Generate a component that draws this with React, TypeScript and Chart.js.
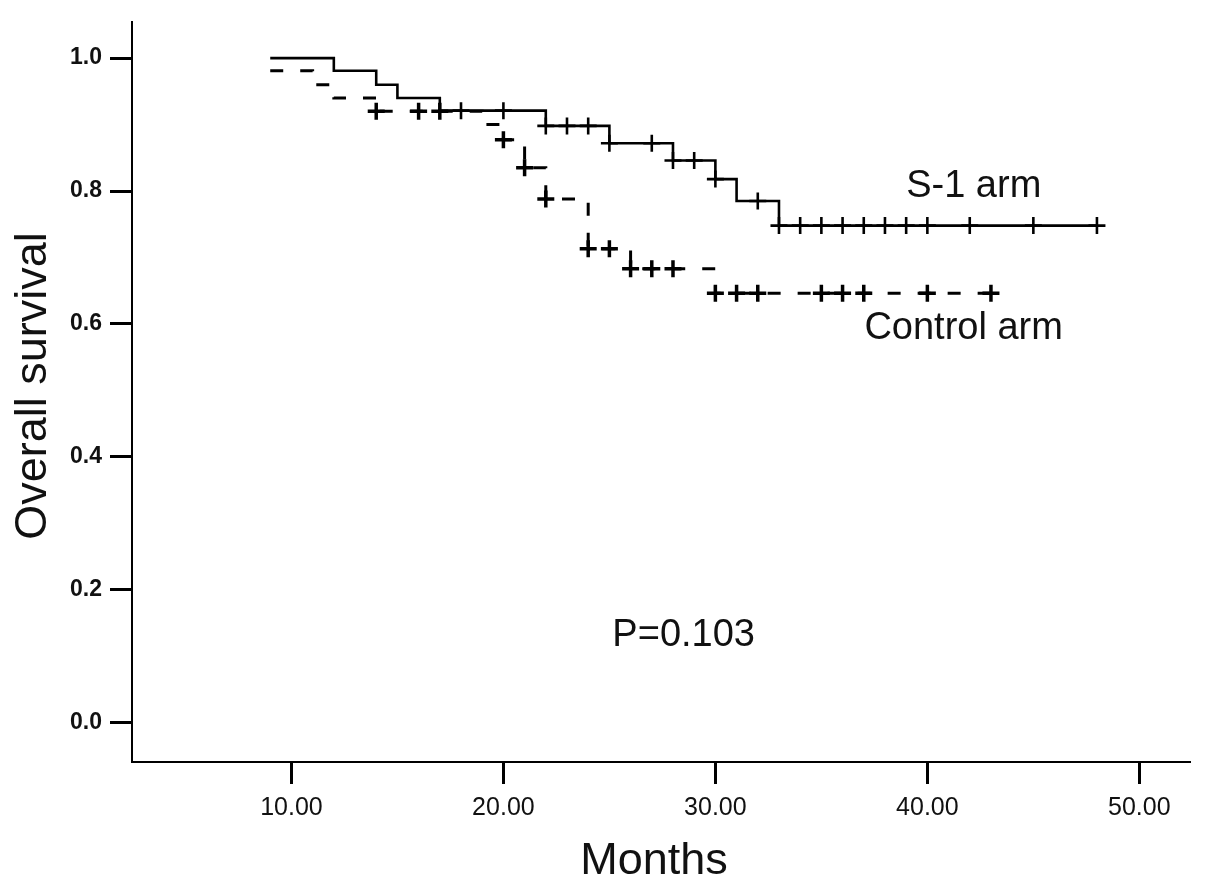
import React, { useEffect, useRef } from "react";
import { Chart, registerables } from "chart.js";

Chart.register(...registerables);

// ---- Data ----
const s1EventMonths = [9, 12, 14, 15, 17, 22, 25, 28, 30, 31, 33, 48];
const s1Survival = [1.0, 0.981, 0.96, 0.94, 0.921, 0.898, 0.872, 0.846, 0.818, 0.785, 0.748, 0.748];
const s1CensorMonths = [18, 20, 22, 23, 24, 25, 27, 28, 29, 30, 32, 33, 34, 35, 36, 37, 38, 39, 40, 42, 45, 48];

const ctlEventMonths = [9, 11, 12, 14, 19, 20, 21, 22, 24, 26, 30, 43];
const ctlSurvival = [0.981, 0.96, 0.94, 0.92, 0.9, 0.877, 0.835, 0.788, 0.713, 0.683, 0.646, 0.646];
const ctlCensorMonths = [14, 16, 17, 20, 21, 22, 24, 25, 26, 27, 28, 30, 31, 32, 35, 36, 37, 40, 43];

const xTickValues = [10, 20, 30, 40, 50];
const yTickValues = [0, 0.2, 0.4, 0.6, 0.8, 1.0];

const seriesLabels = ["S-1 arm", "Control arm"];
const pValueText = "P=0.103";
const xAxisTitle = "Months";
const yAxisTitle = "Overall survival";

function survivalAt(months: number[], surv: number[], t: number): number {
  let v = surv[0];
  for (let i = 0; i < months.length; i++) {
    if (months[i] <= t + 1e-9) v = surv[i];
  }
  return v;
}

export default function App() {
  const ref = useRef<HTMLCanvasElement>(null);

  useEffect(() => {
    const canvas = ref.current;
    if (!canvas) return;
    const FONT = '"Liberation Sans", Arial, Helvetica, sans-serif';

    const s1Line = s1EventMonths.map((m, i) => ({ x: m, y: s1Survival[i] }));
    const ctlLine = ctlEventMonths.map((m, i) => ({ x: m, y: ctlSurvival[i] }));
    const s1Cens = s1CensorMonths.map((m) => ({ x: m, y: survivalAt(s1EventMonths, s1Survival, m) }));
    const ctlCens = ctlCensorMonths.map((m) => ({ x: m, y: survivalAt(ctlEventMonths, ctlSurvival, m) }));

    const textPlugin = {
      id: "textPlugin",
      beforeDraw(chart: any) {
        const ctx = chart.ctx;
        ctx.save();
        ctx.fillStyle = "#ffffff";
        ctx.fillRect(0, 0, chart.width, chart.height);
        ctx.restore();
      },
      afterDraw(chart: any) {
        const ctx = chart.ctx;
        const xs = chart.scales.x;
        const ys = chart.scales.y;
        ctx.save();
        ctx.fillStyle = "#111111";
        ctx.textAlign = "left";
        ctx.textBaseline = "alphabetic";
        ctx.font = `38px ${FONT}`;
        ctx.fillText(seriesLabels[0], xs.getPixelForValue(39.0), ys.getPixelForValue(0.7915));
        ctx.fillText(seriesLabels[1], xs.getPixelForValue(37.03), ys.getPixelForValue(0.5766));
        ctx.fillText(pValueText, xs.getPixelForValue(25.14), ys.getPixelForValue(0.115));

        // axis titles
        ctx.font = `45px ${FONT}`;
        ctx.textAlign = "center";
        ctx.fillText(xAxisTitle, 654, 874);
        ctx.translate(46, 386);
        ctx.rotate(-Math.PI / 2);
        ctx.fillText(yAxisTitle, 0, 0);
        ctx.restore();
      },
    };

    const chart = new Chart(canvas, {
      type: "line",
      data: {
        datasets: [
          {
            label: seriesLabels[0],
            data: s1Line,
            stepped: true,
            borderColor: "#000000",
            borderWidth: 2.6,
            pointRadius: 0,
            fill: false,
          },
          {
            label: seriesLabels[1],
            data: ctlLine,
            stepped: true,
            borderColor: "#000000",
            borderWidth: 3,
            borderDash: [13, 17],
            pointRadius: 0,
            fill: false,
          },
          {
            type: "scatter",
            label: "S-1 censored",
            data: s1Cens,
            showLine: false,
            pointStyle: "cross",
            pointRadius: 8.5,
            pointBorderWidth: 2.6,
            borderColor: "#000000",
            backgroundColor: "#000000",
          } as any,
          {
            type: "scatter",
            label: "Control censored",
            data: ctlCens,
            showLine: false,
            pointStyle: "cross",
            pointRadius: 8.5,
            pointBorderWidth: 3.5,
            borderColor: "#000000",
            backgroundColor: "#000000",
          } as any,
        ],
      },
      options: {
        animation: false,
        responsive: false,
        devicePixelRatio: 1,
        layout: { padding: { left: 0, top: 14, right: 15, bottom: 0 } },
        plugins: {
          legend: { display: false },
          tooltip: { enabled: false },
        },
        scales: {
          x: {
            type: "linear",
            min: 2.479,
            max: 52.39,
            afterFit: (s: any) => {
              s.height = 124;
            },
            afterBuildTicks: (s: any) => {
              s.ticks = xTickValues.map((v) => ({ value: v }));
            },
            border: { display: true, color: "#000000", width: 2 },
            grid: {
              display: true,
              drawOnChartArea: false,
              drawTicks: true,
              tickLength: 22,
              tickWidth: 3,
              tickColor: "#000000",
            },
            ticks: {
              color: "#111111",
              font: { family: FONT, size: 25 },
              padding: 9,
              maxRotation: 0,
              autoSkip: false,
              callback: (v: any) => Number(v).toFixed(2),
            },
          },
          y: {
            type: "linear",
            min: -0.0593,
            max: 1.0547,
            afterFit: (s: any) => {
              s.width = 132;
            },
            afterBuildTicks: (s: any) => {
              s.ticks = yTickValues.map((v) => ({ value: v }));
            },
            border: { display: true, color: "#000000", width: 2 },
            grid: {
              display: true,
              drawOnChartArea: false,
              drawTicks: true,
              tickLength: 22,
              tickWidth: 3,
              tickColor: "#000000",
            },
            ticks: {
              color: "#111111",
              font: { family: FONT, size: 23, weight: "bold" },
              padding: 8,
              autoSkip: false,
              callback: (v: any) => Number(v).toFixed(1),
            },
          },
        },
      },
      plugins: [textPlugin],
    } as any);

    return () => {
      chart.destroy();
    };
  }, []);

  return (
    <div style={{ position: "absolute", left: 0, top: 0, width: 1205, height: 886, background: "#fff" }}>
      <canvas ref={ref} width={1205} height={886} style={{ width: 1205, height: 886, display: "block" }} />
    </div>
  );
}
